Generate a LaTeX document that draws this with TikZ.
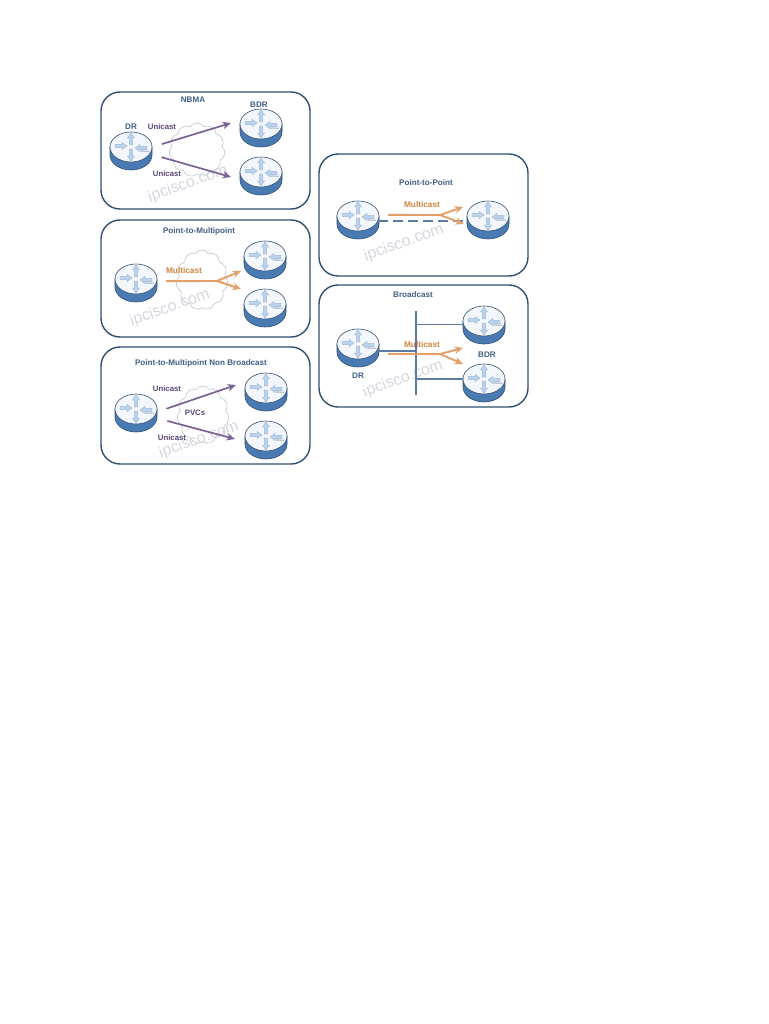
\documentclass[tikz,border=0pt]{standalone}
\usepackage{fontspec}
\setmainfont{Liberation Sans}
\usetikzlibrary{arrows.meta,shapes.geometric,shapes.symbols}
\definecolor{panelline}{HTML}{2F4F73}
\definecolor{titletext}{HTML}{3F5F85}
\definecolor{unicolor}{HTML}{7A6296}
\definecolor{unitext}{HTML}{5A4674}
\definecolor{multicolor}{HTML}{E2A068}
\definecolor{multitext}{HTML}{D0843F}
\definecolor{routerside}{HTML}{4A7AB2}
\definecolor{routertopfill}{HTML}{F3F6FA}
\definecolor{routerarrowfill}{HTML}{BCD2EA}
\definecolor{busline}{HTML}{5B7BA6}
\definecolor{cloudline}{HTML}{BFC4CB}
\definecolor{marktext}{HTML}{D4D8DE}
\tikzset{
  panel/.style={draw=panelline, line width=1.4pt, rounded corners=19pt, fill=white},
  titlelabel/.style={font=\fontsize{8.1}{9}\selectfont\bfseries, text=titletext, inner sep=0pt},
  unilabel/.style={font=\fontsize{7.8}{9}\selectfont\bfseries, text=unitext, inner sep=0pt},
  multilabel/.style={font=\fontsize{8.3}{9}\selectfont\bfseries, text=multitext, inner sep=0pt},
  cloudbox/.style={cloud, cloud puffs=11, cloud puff arc=110, aspect=1, draw=cloudline, fill=white,
    line width=0.6pt, inner sep=0pt},
  watermark/.style={font=\fontsize{16}{18}\selectfont, text=marktext, rotate=20, inner sep=0pt},
  uniarr/.style={-{Stealth[length=3mm,width=2.6mm]}, line width=1.7pt, draw=unicolor},
  multiline/.style={line width=1.9pt, draw=multicolor},
  multiarr/.style={multiline, -{Stealth[length=3mm,width=2.6mm]}},
  busbar/.style={draw=busline, line width=1.4pt},
  routertop/.style={ellipse, draw=panelline, line width=0.6pt, fill=routertopfill, minimum width=42pt,
    minimum height=30pt, inner sep=0pt},
  routerarrow/.style={fill=routerarrowfill, draw=routerside!60, line width=0.3pt},
  router/.pic={
    \path[fill=routerside, draw=panelline, line width=0.6pt] (-21,0) -- (-21,8)
      .. controls (-21,16.3) and (-11.6,23) .. (0,23)
      .. controls (11.6,23) and (21,16.3) .. (21,8) -- (21,0) -- cycle;
    \node[routertop] (-top) at (0,0) {};
    \foreach \sx/\sy/\ang in {0/-8/90, 0/8/-90, -10/-1/0, 10/1/180}
      \path[routerarrow, shift={(\sx,\sy)}, rotate=\ang] (-6,-1.8) -- (1,-1.8) -- (1,-3.6) -- (6,0)
        -- (1,3.6) -- (1,1.8) -- (-6,1.8) -- cycle;
    \node[font=\fontsize{2.4}{3}\selectfont, text=panelline, inner sep=0pt] (-tag) at (14,4.5) {IPCisco};
  }
}

\begin{document}
\begin{tikzpicture}[x=1pt, y=-1pt]
  \useasboundingbox[fill=white] (0,0) rectangle (768,1024);
  % left column
  \node[panel, minimum width=209pt, minimum height=117pt] (nbmaPanel) at (205.5,150.5) {};
  \node[panel, minimum width=209pt, minimum height=117pt] (pmpPanel) at (205.5,278.5) {};
  \node[panel, minimum width=209pt, minimum height=117pt] (nbPanel) at (205.5,405.5) {};
  % right column
  \node[panel, minimum width=209pt, minimum height=122pt] (ptpPanel) at (423.5,215) {};
  \node[panel, minimum width=209pt, minimum height=122pt] (bcastPanel) at (423.5,346) {};

  \node[cloudbox, minimum width=56pt, minimum height=54pt] (nbmaCloud) at (197,150) {};
  \node[cloudbox, minimum width=52pt, minimum height=60pt] (pmpCloud) at (202,280) {};
  \node[cloudbox, minimum width=52pt, minimum height=58pt] (nbCloud) at (203,415) {};

  \node[watermark] (nbmaMark) at (188,184) {ipcisco.com};
  \node[watermark] (pmpMark) at (170,308) {ipcisco.com};
  \node[watermark] (nbMark) at (199,440) {ipcisco.com};
  \node[watermark] (ptpMark) at (404,243) {ipcisco.com};
  \node[watermark] (bcastMark) at (403,379) {ipcisco.com};

  \pic (nbmaDR) at (131,147) {router};
  \pic (nbmaBDR) at (261,124) {router};
  \pic (nbmaOther) at (261,172) {router};
  \pic (pmpHub) at (136,279) {router};
  \pic (pmpTop) at (265,256) {router};
  \pic (pmpLow) at (265,304) {router};
  \pic (nbHub) at (136,409) {router};
  \pic (nbTop) at (266,388) {router};
  \pic (nbLow) at (266,436) {router};
  \pic (ptpLeft) at (358,216) {router};
  \pic (ptpRight) at (488,216) {router};
  \pic (bcastDR) at (358,344) {router};
  \pic (bcastBDR) at (484,321) {router};
  \pic (bcastOther) at (484,379) {router};

  \node[titlelabel] (nbmaTitle) at (193,100) {NBMA};
  \node[titlelabel] (pmpTitle) at (199,231) {Point-to-Multipoint};
  \node[titlelabel] (nbTitle) at (201,363) {Point-to-Multipoint Non Broadcast};
  \node[titlelabel] (ptpTitle) at (426,183) {Point-to-Point};
  \node[titlelabel] (bcastTitle) at (413,295) {Broadcast};
  \node[titlelabel] (nbmaDRlabel) at (131,127) {DR};
  \node[titlelabel] (nbmaBDRlabel) at (259,105) {BDR};
  \node[titlelabel] (bcastDRlabel) at (358,376) {DR};
  \node[titlelabel] (bcastBDRlabel) at (487,355) {BDR};
  \node[unilabel] (nbmaUniA) at (162,127) {Unicast};
  \node[unilabel] (nbmaUniB) at (167,174) {Unicast};
  \node[unilabel] (nbUniA) at (167,389) {Unicast};
  \node[unilabel] (nbUniB) at (172,438) {Unicast};
  \node[unilabel] (nbPvc) at (195,413) {PVCs};
  \node[multilabel] (pmpMulti) at (184,271) {Multicast};
  \node[multilabel] (ptpMulti) at (422,205) {Multicast};
  \node[multilabel] (bcastMulti) at (422,345) {Multicast};

  \coordinate (nbmaTipA) at (231,123);
  \coordinate (nbmaTipB) at (231,177);
  \draw[uniarr, shorten <=10pt] (nbmaDR-top.east) -- (nbmaTipA);
  \draw[uniarr, shorten <=12pt] (nbmaDR-top.-20) -- (nbmaTipB);
  \coordinate (nbTipA) at (236,385);
  \coordinate (nbTipB) at (235,439);
  \draw[uniarr, shorten <=10pt] (nbHub-top.-8) -- (nbTipA);
  \draw[uniarr, shorten <=14pt] (nbHub-top.-25) -- (nbTipB);

  \coordinate (pmpFork) at (217,281);
  \coordinate (pmpTipA) at (241,271);
  \coordinate (pmpTipB) at (241,289);
  \draw[multiline, shorten <=9pt] (pmpHub-top.-6) -- (pmpFork);
  \draw[multiarr] (pmpFork) -- (pmpTipA);
  \draw[multiarr] (pmpFork) -- (pmpTipB);

  \draw[draw=busline, line width=2pt, dash pattern=on 10pt off 5pt] (ptpLeft-top.-15) -- (ptpRight-top.195);
  \coordinate (ptpFork) at (440,215);
  \coordinate (ptpTipA) at (463,207);
  \coordinate (ptpTipB) at (464,224);
  \draw[multiline, shorten <=9pt] (ptpLeft-top.3) -- (ptpFork);
  \draw[multiarr] (ptpFork) -- (ptpTipA);
  \draw[multiarr] (ptpFork) -- (ptpTipB);

  \node[minimum width=0pt, minimum height=84pt, inner sep=0pt, draw=busline, line width=1.6pt] (bcastBus) at (416,353) {};
  \draw[busbar] (bcastDR-top.-20) -- (bcastDR-top.-20 -| bcastBus.center);
  \draw[busbar] (bcastBDR-top.190 -| bcastBus.center) -- (bcastBDR-top.190);
  \draw[busbar] (bcastOther-top.west -| bcastBus.center) -- (bcastOther-top.west);
  \coordinate (bcastFork) at (440,354);
  \coordinate (bcastTipA) at (463,348);
  \coordinate (bcastTipB) at (463,364);
  \draw[multiline, shorten <=14pt] (bcastDR-top.-32) -- (bcastFork);
  \draw[multiarr] (bcastFork) -- (bcastTipA);
  \draw[multiarr] (bcastFork) -- (bcastTipB);
\end{tikzpicture}
\end{document}
